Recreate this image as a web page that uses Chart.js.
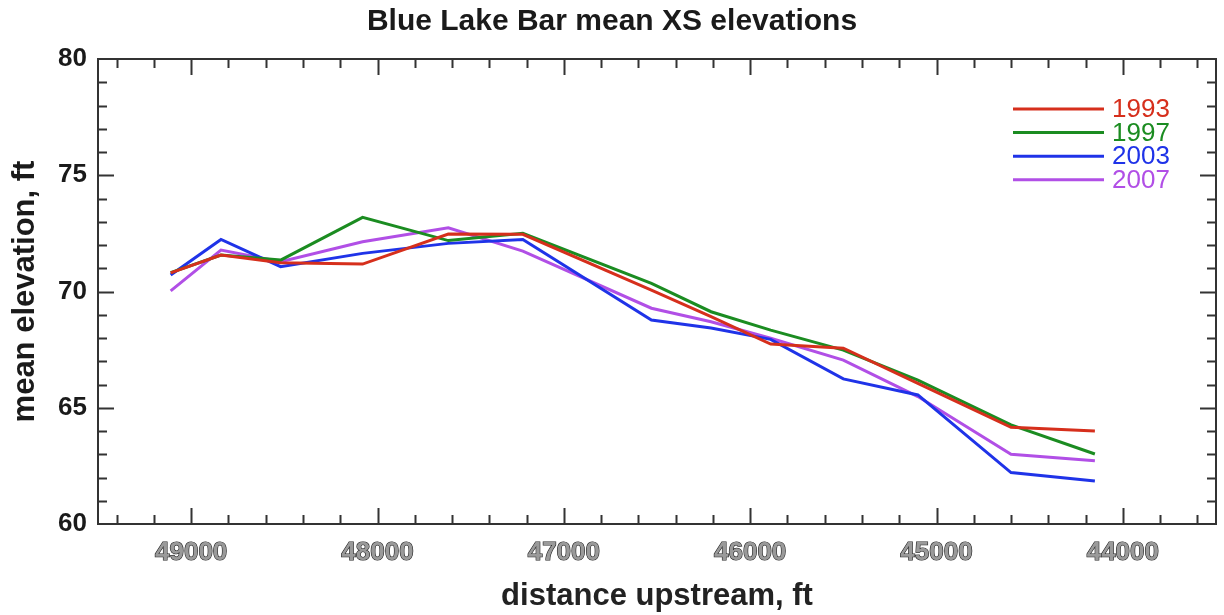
<!DOCTYPE html>
<html>
<head>
<meta charset="utf-8">
<title>Blue Lake Bar mean XS elevations</title>
<script src="https://cdn.jsdelivr.net/npm/chart.js@4.4.1/dist/chart.umd.min.js"></script>
<style>
    html, body { margin: 0; padding: 0; background: #fff; }
    canvas { display: block; }
</style>
</head>
<body>
<canvas id="xsChart" width="1224" height="615"></canvas>
<script>
// ── Data ─────────────────────────────────────────────────────────────────
var distances = [49110, 48840, 48520, 48080, 47620, 47220, 46530, 46210, 45890, 45500, 45100, 44600, 44150];
var elev1993  = [70.80, 71.57, 71.24, 71.18, 72.47, 72.46, 70.06, 68.92, 67.74, 67.56, 66.05, 64.16, 64.00];
var elev1997  = [70.81, 71.57, 71.35, 73.19, 72.19, 72.50, 70.35, 69.13, 68.34, 67.48, 66.19, 64.26, 63.01];
var elev2003  = [70.71, 72.24, 71.07, 71.64, 72.07, 72.24, 68.77, 68.43, 67.94, 66.24, 65.55, 62.21, 61.85];
var elev2007  = [70.03, 71.78, 71.28, 72.14, 72.74, 71.74, 69.28, 68.70, 67.99, 67.05, 65.48, 63.00, 62.72];
var seriesLabels = ['1993', '1997', '2003', '2007'];
var seriesColors = ['#d62f1c', '#1b8c21', '#1f33e8', '#b14fe6'];

// axis ranges / ticks
var xMin = 43500, xMax = 49500, xMajor = 1000, xMinor = 200;
var yMin = 60, yMax = 80, yMajor = 5, yMinor = 1;

(function() {
    'use strict';

    var FONT = "'Liberation Sans', Arial, Helvetica, sans-serif";

    function points(ys) {
        return distances.map(function(d, i) { return { x: d, y: ys[i] }; });
    }

    var allSeries = [elev1993, elev1997, elev2003, elev2007];
    var datasets = allSeries.map(function(ys, i) {
        return {
            label: seriesLabels[i],
            data: points(ys),
            borderColor: seriesColors[i],
            backgroundColor: seriesColors[i],
            borderWidth: 3,
            pointRadius: 0,
            tension: 0,
            fill: false
        };
    });

    // ── Frame, inward ticks, title, legend ────────────────────────────────
    var decorations = {
        id: 'decorations',
        afterDatasetsDraw: function(chart) {
            var ctx = chart.ctx;
            var a   = chart.chartArea;
            var xs  = chart.scales.x;
            var ys  = chart.scales.y;
            var v, p, len;

            ctx.save();
            ctx.strokeStyle = '#333';
            ctx.lineWidth = 2;
            ctx.strokeRect(a.left, a.top, a.right - a.left, a.bottom - a.top);

            ctx.beginPath();
            for (v = xMin + xMinor / 2; v < xMax; v += xMinor) {
                p   = Math.round(xs.getPixelForValue(v)) + 0.5;
                len = v % xMajor === 0 ? 16 : 9;
                ctx.moveTo(p, a.bottom); ctx.lineTo(p, a.bottom - len);
                ctx.moveTo(p, a.top);    ctx.lineTo(p, a.top + len);
            }
            for (v = yMin + yMinor; v < yMax; v += yMinor) {
                p   = Math.round(ys.getPixelForValue(v)) + 0.5;
                len = v % yMajor === 0 ? 16 : 9;
                ctx.moveTo(a.left, p);  ctx.lineTo(a.left + len, p);
                ctx.moveTo(a.right, p); ctx.lineTo(a.right - len, p);
            }
            ctx.stroke();

            // title (centred on the whole canvas)
            ctx.fillStyle = '#1a1a1a';
            ctx.font = 'bold 30px ' + FONT;
            ctx.textAlign = 'center';
            ctx.textBaseline = 'middle';
            ctx.fillText('Blue Lake Bar mean XS elevations', chart.width / 2, 22);

            // legend: long line then coloured year
            ctx.font = '26px ' + FONT;
            ctx.textAlign = 'left';
            ctx.lineWidth = 3;
            chart.data.datasets.forEach(function(ds, i) {
                var y = a.top + 50 + i * 23.6;
                ctx.strokeStyle = ds.borderColor;
                ctx.beginPath();
                ctx.moveTo(a.right - 203, y);
                ctx.lineTo(a.right - 112, y);
                ctx.stroke();
                ctx.fillStyle = ds.borderColor;
                ctx.fillText(ds.label, a.right - 104, y + 1);
            });
            ctx.restore();
        }
    };

    // ── Chart ─────────────────────────────────────────────────────────────
    new Chart(document.getElementById('xsChart'), {
        type: 'line',
        data: { datasets: datasets },
        plugins: [decorations],
        options: {
            responsive: false,
            animation: false,
            devicePixelRatio: 1,
            layout: { padding: { top: 59, right: 8, left: 0, bottom: 0 } },
            plugins: {
                legend: { display: false },
                title: { display: false },
                tooltip: { enabled: false }
            },
            scales: {
                x: {
                    type: 'linear',
                    reverse: true,
                    min: xMin,
                    max: xMax,
                    grid: { display: false, drawTicks: false },
                    border: { display: false },
                    afterFit: function(scale) {
                        scale.height = 91;
                        scale.paddingLeft = 0;
                        scale.paddingRight = 0;
                    },
                    ticks: {
                        stepSize: xMajor / 2,
                        autoSkip: false,
                        maxRotation: 0,
                        minRotation: 0,
                        padding: 13,
                        color: '#9a9a9a',
                        textStrokeColor: '#222',
                        textStrokeWidth: 1.2,
                        font: { family: FONT, size: 26, weight: 'bold' },
                        callback: function(v) { return v % xMajor === 0 ? String(v) : ''; }
                    },
                    title: {
                        display: true,
                        text: 'distance upstream, ft',
                        color: '#222',
                        padding: { top: 0, bottom: 0 },
                        font: { family: FONT, size: 31, weight: 'bold' }
                    }
                },
                y: {
                    type: 'linear',
                    min: yMin,
                    max: yMax,
                    grid: { display: false, drawTicks: false },
                    border: { display: false },
                    afterFit: function(scale) { scale.width = 98; },
                    ticks: {
                        stepSize: yMajor,
                        autoSkip: false,
                        padding: 11,
                        color: '#1a1a1a',
                        font: { family: FONT, size: 26, weight: 'bold' }
                    },
                    title: {
                        display: true,
                        text: 'mean elevation, ft',
                        color: '#1a1a1a',
                        padding: { top: 7, bottom: 0 },
                        font: { family: FONT, size: 31, weight: 'bold' }
                    }
                }
            }
        }
    });
})();
</script>
</body>
</html>
